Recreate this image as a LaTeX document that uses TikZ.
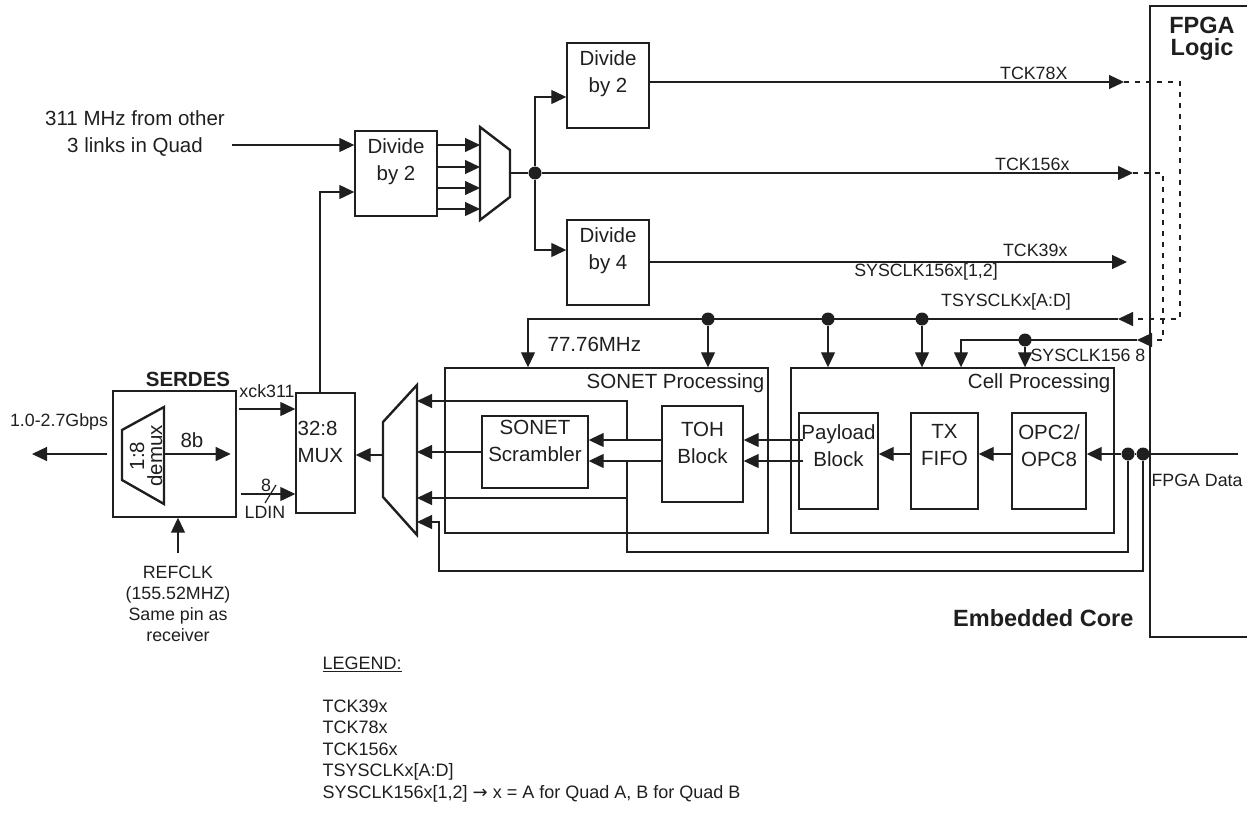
\documentclass[tikz,border=0pt]{standalone}
\usepackage{fontspec}
\setmainfont{Liberation Sans}
\newfontfamily\symfont{DejaVu Sans}
\usetikzlibrary{arrows.meta, positioning, calc}

\newcommand{\txtfont}{\fontsize{20.5}{27}\selectfont}
\newcommand{\sigfont}{\fontsize{17.8}{21}\selectfont}
\newcommand{\legfont}{\fontsize{18}{21.5}\selectfont}
\newcommand{\hdfont}{\fontsize{23.5}{22.5}\selectfont\bfseries}

\begin{document}
\begin{tikzpicture}[x=1pt, y=-1pt, line width=1.2pt, color=black!88,
  blk/.style={rectangle, draw, line width=1.4pt, minimum width=82pt, minimum height=85pt, inner sep=0pt},
  grp/.style={rectangle, draw, line width=1.4pt, minimum width=323pt, minimum height=165pt, inner sep=0pt},
  txt/.style={align=center, font=\txtfont, inner sep=0pt},
  sig/.style={align=center, font=\sigfont, inner sep=0pt},
  arr/.style={-{Triangle[length=15pt, width=14pt]}},
  dot/.style={circle, fill, inner sep=0pt, minimum size=13pt},
  muxs/.style={line width=2.4pt, line join=miter},
  clk/.style={dash pattern=on 5pt off 6pt}
]
\useasboundingbox (0,0) rectangle (1247,816);

% clock divider chain
\node[txt] (src) at (135,134) {311 MHz from other\\3 links in Quad};
\node[blk] (div1) at (396,173.5) {};
\node[txt] (div1t) at (396,162) {Divide\\by 2};
\node[blk] (div2) at (608,85.5) {};
\node[txt] (div2t) at (608,74) {Divide\\by 2};
\node[blk] (div4) at (608,262.5) {};
\node[txt] (div4t) at (608,251) {Divide\\by 4};
\coordinate (m1L) at (480,173);
\coordinate (m1R) at (510,173);
\draw[muxs] (480,127) -- (510,150) -- (510,197) -- (480,220) -- cycle;
\node[dot] (d1) at (535,173) {};

\coordinate (in311) at (232,145);
\draw[arr] (in311) -- (in311 -| div1.west);
\foreach \y in {145,167,188,209}
  \draw[arr] (div1.east |- 0,\y) -- (m1L |- 0,\y);
\draw (m1R) -- (d1);
\draw[arr] (d1) |- ([yshift=-11.5pt]div2.west);
\draw[arr] (d1) |- ([yshift=12.5pt]div4.west);

% outputs to the FPGA logic
\coordinate (t78) at (1124,82);
\coordinate (t156) at (1133,173);
\coordinate (t39) at (1127,262);
\coordinate (tsys) at (1118,319);
\coordinate (sys156) at (1137,340);
\coordinate (loopA) at (1180,82);
\coordinate (loopB) at (1163,173);
\draw[arr] (div2.east |- t78) -- (t78);
\draw[arr] (d1) -- (t156);
\draw[arr] (div4.east |- t39) -- (t39);
\draw[clk, arr] (t78) -- (loopA) -- (loopA |- tsys) -- (tsys);
\draw[clk, arr] (t156) -- (loopB) -- (loopB |- sys156) -- (sys156);
\node[sig, anchor=base east] (l78) at (1068,79) {TCK78X};
\node[sig, anchor=base east] (l156) at (1070,170) {TCK156x};
\node[sig, anchor=base east] (l39) at (1068,256) {TCK39x};
\node[sig, anchor=base] (lsys12) at (926,276.5) {SYSCLK156x[1,2]};
\node[sig, anchor=base] (ltsys) at (1006,306.5) {TSYSCLKx[A:D]};

% processing blocks
\node[grp] (son) at (606.5,450.5) {};
\node[txt, anchor=base east] (sont) at (765,388.5) {SONET Processing};
\node[grp] (cell) at (952.5,450.5) {};
\node[txt, anchor=base east] (cellt) at (1111,388.5) {Cell Processing};

\node[blk, minimum width=106pt, minimum height=72pt] (scr) at (535,452) {};
\node[txt] (scrt) at (535,441) {SONET\\Scrambler};
\node[blk, minimum width=81pt, minimum height=96pt] (toh) at (702.5,454) {};
\node[txt] (toht) at (702.5,442.5) {TOH\\Block};
\node[blk, minimum width=79pt, minimum height=96pt] (pay) at (838.5,461) {};
\node[txt] (payt) at (838.5,445.5) {Payload\\Block};
\node[blk, minimum width=67pt, minimum height=96pt] (fifo) at (944.5,461) {};
\node[txt] (fifot) at (944.5,445.5) {TX\\FIFO};
\node[blk, minimum width=74pt, minimum height=96pt] (opc) at (1049,461) {};
\node[txt] (opct) at (1049,445.5) {OPC2/\\OPC8};

% clock distribution
\coordinate (bA) at (528,319);
\coordinate (bB) at (961,340);
\draw[arr] (tsys) -- (bA) -- (bA |- son.north);
\foreach \x/\n in {708/a,828/b,922/c}
  \node[dot] (k\n) at (\x,319) {};
\draw[arr] (ka) -- (ka |- son.north);
\draw[arr] (kb) -- (kb |- cell.north);
\draw[arr] (kc) -- (kc |- cell.north);
\draw[arr] (sys156) -- (bB) -- (bB |- cell.north);
\node[dot] (kd) at (1025,340) {};
\draw[arr] (kd) -- (kd |- cell.north);
\node[txt, anchor=base west] (l77) at (547,351.5) {77.76MHz};
\node[sig, anchor=base west] (l1568) at (1030,361) {SYSCLK156 8};

% data path
\coordinate (fdata) at (1238,454);
\node[dot] (da) at (1128,454) {};
\node[dot] (db) at (1143,454) {};
\draw (fdata) -- (db) -- (da);
\draw[arr] (da) -- (da -| opc.east);
\draw[arr] ([yshift=7pt]opc.west) -- ([yshift=7pt]fifo.east);
\draw[arr] ([yshift=7pt]fifo.west) -- ([yshift=7pt]pay.east);
\draw[arr] ([xshift=5pt,yshift=21pt]pay.west) -- ([yshift=21pt]pay.west -| toh.east);
\draw[arr] ([xshift=5pt]pay.west) -- (pay.west -| toh.east);
\draw[arr] ([yshift=14pt]toh.west) -- ([yshift=14pt]toh.west -| scr.east);
\draw[arr] ([yshift=-7pt]toh.west) -- ([yshift=-7pt]toh.west -| scr.east);
\node[sig, anchor=base] (lfd) at (1197,486) {FPGA Data};

\draw[muxs] (383,422) -- (417,385) -- (417,535) -- (383,497) -- cycle;
\coordinate (m2i1) at (417,401);
\coordinate (m2i2) at (417,452);
\coordinate (m2i3) at (417,498);
\coordinate (m2i4) at (417,522);
\coordinate (m2L) at (383,455);
\coordinate (tapA) at (627,440);
\coordinate (tapB) at (627,461);
\coordinate (lpA) at (627,552);
\coordinate (lpB) at (439,571);
\draw[arr] (scr.west) -- (m2i2);
\draw[arr] (tapA) |- (m2i1);
\draw[arr] (tapB) |- (m2i3);
\draw (da) |- (lpA) -- (tapB);
\draw[arr] (db) |- (lpB) |- (m2i4);

% serializer side
\node[rectangle, draw, line width=1.4pt, minimum width=59pt, minimum height=120pt] (mux) at (325.5,453) {};
\node[txt, align=left, anchor=west] (muxt) at (297,442) {32:8\\MUX};
\draw[arr] (m2L) -- (m2L -| mux.east);
\draw[arr] ([xshift=-5.5pt]mux.north) |- ([yshift=-18.5pt]div1.west);

\node[rectangle, draw, line width=1.4pt, minimum width=123pt, minimum height=126pt] (serdes) at (174.5,454) {};
\node[font=\fontsize{20.5}{24}\selectfont\bfseries, anchor=base, inner sep=0pt] (serdest) at (188,386.5) {SERDES};
\draw[muxs] (122,430) -- (164,407) -- (164,504) -- (122,480) -- cycle;
\node[align=center, font=\fontsize{20.5}{18}\selectfont, inner sep=0pt, rotate=90] (dmxt) at (146,456) {1:8\\demux};
\coordinate (dmxR) at (164,454);
\coordinate (lineout) at (32,454);
\draw[arr] (dmxR) -- ([xshift=-6pt]serdes.east);
\node[txt, anchor=base] (b8) at (192,447.5) {8b};
\draw[arr] ([xshift=-5pt]serdes.west) -- (lineout);
\node[sig, anchor=base] (rate) at (59,426.5) {1.0-2.7Gbps};
\draw[arr] ([xshift=2pt,yshift=45pt]serdes.east) -- ([yshift=45pt]serdes.east -| mux.west);
\node[sig, anchor=base] (lxck) at (267,397.5) {xck311};
\draw[arr] ([xshift=4pt,yshift=-40pt]serdes.east) -- ([yshift=-40pt]serdes.east -| mux.west);
\coordinate (sl) at (270,494);
\draw ([shift={(-5,9)}]sl) -- ([shift={(6,-9)}]sl);
\node[sig, anchor=base] (lw8) at (266,491) {8};
\node[sig, anchor=base] (lldin) at (265,518.5) {LDIN};
\coordinate (rc) at (178,553);
\draw[arr] (rc) -- (rc |- serdes.south);
\node[sig, anchor=north] (rct) at (178,565) {REFCLK\\(155.52MHZ)\\Same pin as\\receiver};

% FPGA fabric
\draw[line width=1.4pt] (1247,6) -| (1150,637) -- (1247,637);
\node[font=\hdfont, align=center, inner sep=0pt] (fpgat) at (1202,39) {FPGA\\Logic};
\node[font=\hdfont, anchor=base east, inner sep=0pt] (emb) at (1134,626.5) {Embedded Core};

% legend
\node[font=\legfont, align=left, anchor=north west, inner sep=0pt] (leg) at (322,656)
  {\underline{LEGEND:}\\[21.5pt]TCK39x\\TCK78x\\TCK156x\\TSYSCLKx[A:D]\\SYSCLK156x[1,2] {\symfont →} x = A for Quad A, B for Quad B};

\end{tikzpicture}
\end{document}
